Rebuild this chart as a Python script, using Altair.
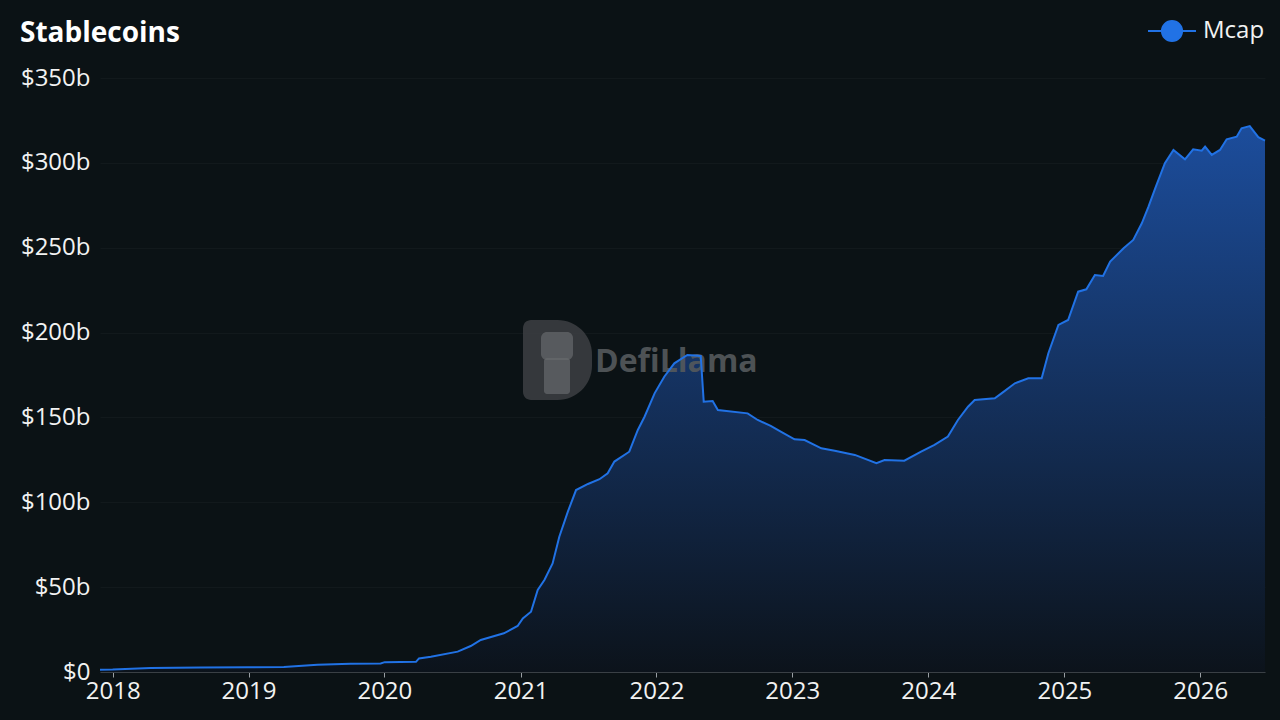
import altair as alt
import pandas as pd

# Stablecoin market cap (billions USD)
dates = [
    "2017-11-28", "2018-01-01", "2018-04-13", "2018-08-25", "2019-01-01",
    "2019-04-06", "2019-07-05", "2019-10-02", "2019-12-22", "2020-01-02",
    "2020-03-26", "2020-04-03", "2020-05-05", "2020-07-16", "2020-08-20",
    "2020-09-16", "2020-11-17", "2020-12-24", "2021-01-07", "2021-01-29",
    "2021-02-16", "2021-03-06", "2021-03-28", "2021-04-15", "2021-05-08",
    "2021-05-30", "2021-07-01", "2021-08-01", "2021-08-23", "2021-09-10",
    "2021-10-20", "2021-11-12", "2021-11-30", "2021-12-27", "2022-01-22",
    "2022-02-18", "2022-03-25", "2022-04-30", "2022-05-08", "2022-06-01",
    "2022-06-15", "2022-09-03", "2022-09-30", "2022-11-04", "2022-12-01",
    "2023-01-07", "2023-02-03", "2023-03-20", "2023-04-25", "2023-06-18",
    "2023-08-15", "2023-09-06", "2023-10-29", "2023-12-13", "2024-01-18",
    "2024-02-23", "2024-03-21", "2024-04-17", "2024-05-05", "2024-06-28",
    "2024-07-16", "2024-08-21", "2024-09-26", "2024-11-01", "2024-11-19",
    "2024-12-16", "2025-01-11", "2025-02-07", "2025-03-01", "2025-03-24",
    "2025-04-15", "2025-05-04", "2025-06-09", "2025-07-05", "2025-07-28",
    "2025-08-15", "2025-09-02", "2025-09-28", "2025-10-21", "2025-11-21",
    "2025-12-13", "2026-01-05", "2026-01-14", "2026-02-01", "2026-02-23",
    "2026-03-13", "2026-04-09", "2026-04-22", "2026-05-14", "2026-06-06",
    "2026-06-24",
]
mcap = [
    1.3, 1.4, 2.3, 2.6, 2.8,
    3.0, 4.3, 4.8, 5.0, 5.8,
    6.0, 8.0, 9.0, 12.0, 15.3,
    18.9, 22.8, 27.1, 31.6, 35.5,
    48.3, 54.2, 64.0, 79.7, 94.5,
    107.2, 110.8, 113.6, 117.1, 124.0,
    129.8, 142.6, 150.4, 164.2, 174.0,
    181.9, 186.8, 186.2, 159.3, 159.7,
    154.4, 152.4, 148.5, 145.0, 141.6,
    137.1, 136.7, 131.8, 130.4, 127.9,
    123.0, 124.9, 124.5, 129.8, 133.8,
    138.7, 148.5, 156.3, 160.3, 161.3,
    164.2, 170.1, 173.1, 173.1, 187.8,
    204.5, 207.4, 224.1, 225.5, 233.9,
    233.4, 241.8, 249.7, 254.6, 264.4,
    274.2, 285.0, 299.8, 307.6, 302.1,
    308.0, 307.2, 309.6, 304.7, 307.6,
    313.9, 315.4, 320.4, 321.7, 315.1,
    313.1,
]
series_name = "Mcap"
title_text = "Stablecoins"
y_ticks = [0, 50, 100, 150, 200, 250, 300, 350]

df = pd.DataFrame({"date": dates, "mcap": mcap, "series": series_name})

FONT = "Open Sans"
BLUE = "#2172e5"
BG = "#0b1215"

x_enc = alt.X(
    "date:T",
    scale=alt.Scale(domain=[dates[0], dates[-1]]),
    axis=alt.Axis(
        title=None, format="%Y", tickCount={"interval": "year", "step": 1},
        grid=False, domainColor="#3a4045", tickColor="#9aa0a4", tickSize=5,
        labelPadding=2, labelFlush=False,
    ),
)
y_enc = alt.Y(
    "mcap:Q",
    scale=alt.Scale(domain=[0, 350], nice=False),
    axis=alt.Axis(
        title=None, values=y_ticks, domain=False, ticks=False,
        gridColor="#12191c", gridWidth=1, labelPadding=10,
        labelExpr="datum.value == 0 ? '$0' : '$' + datum.value + 'b'",
    ),
)

area = alt.Chart(df).mark_area(
    color=alt.Gradient(
        gradient="linear", x1=1, x2=1, y1=1, y2=0,
        stops=[alt.GradientStop(color="#0c131b", offset=0),
               alt.GradientStop(color="#1c4d9c", offset=1)],
    )
).encode(x=x_enc, y=y_enc)

# DefiLlama watermark (decoration)
wm = pd.DataFrame({"t": ["DefiLlama"]})
logo = alt.Chart(wm).mark_rect(
    color="#3d4043", opacity=0.85,
    cornerRadiusTopLeft=8, cornerRadiusBottomLeft=8,
    cornerRadiusTopRight=38, cornerRadiusBottomRight=38,
).encode(x=alt.value(423), x2=alt.value(492), y=alt.value(242), y2=alt.value(322))
llama_head = alt.Chart(wm).mark_rect(
    color="#66696c", opacity=0.7, cornerRadius=6,
).encode(x=alt.value(441), x2=alt.value(473), y=alt.value(254), y2=alt.value(282))
llama_neck = alt.Chart(wm).mark_rect(
    color="#66696c", opacity=0.7, cornerRadius=3,
).encode(x=alt.value(444), x2=alt.value(470), y=alt.value(280), y2=alt.value(316))
logo_text = alt.Chart(wm).mark_text(
    align="left", baseline="middle", font=FONT, fontWeight="bold",
    fontSize=32, color="#55595c", opacity=0.9,
).encode(text="t:N", x=alt.value(495), y=alt.value(284))

line = alt.Chart(df).mark_line(strokeWidth=2).encode(
    x=x_enc, y=y_enc,
    color=alt.Color(
        "series:N", scale=alt.Scale(domain=[series_name], range=[BLUE]),
        legend=alt.Legend(
            title=None, orient="none", legendX=1047, legendY=-72,
            symbolType="M-1,0L1,0M-0.42,0A0.42,0.42,0,1,0,0.42,0A0.42,0.42,0,1,0,-0.42,0Z",
            symbolSize=2304, symbolStrokeWidth=2, symbolFillColor=BLUE,
            symbolStrokeColor=BLUE, labelFontSize=24, labelFont=FONT,
            labelColor="#f2f2f2", labelOffset=6, padding=0,
        ),
    ),
)

title = alt.Chart(pd.DataFrame({"t": [title_text]})).mark_text(
    align="left", baseline="middle", font=FONT, fontWeight="bold",
    fontSize=28, color="#ffffff",
).encode(text="t:N", x=alt.value(-80), y=alt.value(-44))

chart = alt.layer(area, logo, llama_head, llama_neck, logo_text, line, title).properties(
    width=1165, height=594,
    autosize=alt.AutoSizeParams(type="none"),
    padding={"left": 100, "top": 78, "right": 15, "bottom": 48},
    background=BG,
).configure_view(stroke=None, clip=False).configure_axis(
    labelFont=FONT, labelFontSize=24, labelColor="#f2f2f2",
)

chart.save("out.html", embed_options={"renderer": "svg", "actions": False})
